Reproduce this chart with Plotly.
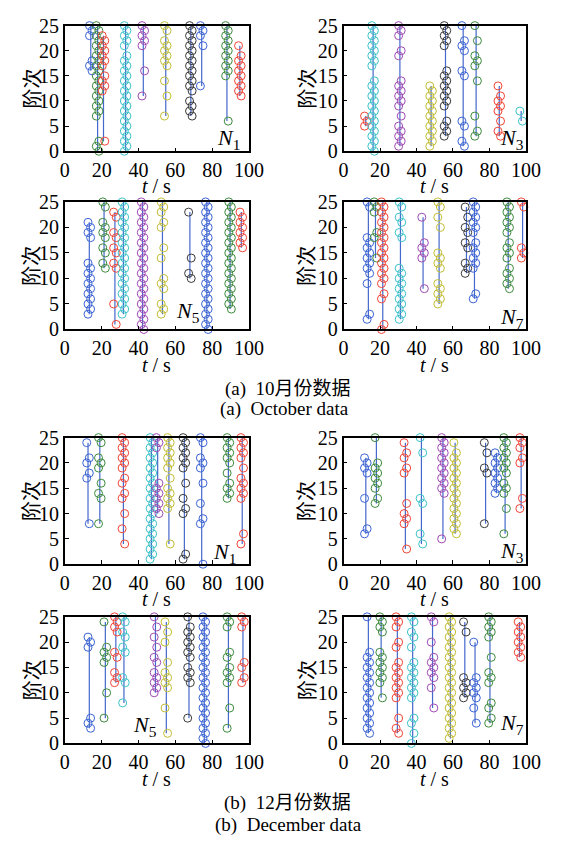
import plotly.graph_objects as go

# ---------------- data ----------------
X_TICKS = [0, 20, 40, 60, 80, 100]
Y_TICKS = [0, 5, 10, 15, 20, 25]

# October, N1
oct_n1_t = [14.1, 17.8, 21.0, 33.0, 42.6, 54.8, 68.4, 74.3, 88.0, 95.0]
oct_n1_c = ["b", "g", "r", "c", "m", "y", "k", "b", "g", "r"]
oct_n1_orders = [
    [25, 24, 23, 18, 17, 16],
    [25, 24, 23, 22, 21, 20, 19, 18, 17, 16, 15, 14, 13, 12, 11, 10, 9, 8, 7, 2, 1, 0],
    [23, 22, 21, 20, 19, 18, 17, 15, 14, 13, 12, 2],
    [25, 24, 23, 22, 21, 19, 18, 17, 16, 15, 14, 13, 12, 11, 10, 9, 8, 7, 6, 5, 4, 3, 2, 1, 0],
    [25, 24, 23, 22, 21, 16, 11],
    [25, 24, 22, 21, 20, 19, 18, 17, 14, 11, 7],
    [25, 24, 23, 22, 21, 20, 19, 18, 17, 16, 15, 14, 13, 12, 10, 9, 8, 7],
    [25, 24, 23, 21, 13],
    [25, 24, 23, 22, 21, 20, 19, 18, 17, 16, 15, 6],
    [21, 19, 18, 17, 16, 15, 14, 13, 12, 11],
]

# October, N3
oct_n3_t = [12.2, 16.2, 30.9, 48.0, 55.9, 65.6, 72.7, 85.4, 97.4]
oct_n3_c = ["r", "c", "m", "y", "k", "b", "g", "r", "c"]
oct_n3_orders = [
    [7, 6, 5],
    [25, 24, 23, 22, 21, 20, 19, 18, 17, 14, 13, 12, 11, 10, 9, 8, 7, 6, 5, 4, 3, 2, 1, 0],
    [25, 24, 23, 20, 19, 14, 13, 12, 11, 10, 9, 7, 5, 4, 3, 2, 1],
    [13, 12, 11, 10, 9, 8, 7, 6, 5, 4, 3, 2, 1],
    [25, 24, 23, 22, 21, 16, 15, 14, 13, 12, 11, 10, 9, 6, 5, 4, 3],
    [25, 22, 21, 20, 16, 15, 6, 5, 2, 1],
    [25, 22, 19, 18, 17, 14, 7, 4, 3],
    [13, 11, 10, 9, 8, 6, 4, 3],
    [8, 6],
]

# October, N5
oct_n5_t = [13.3, 21.3, 27.2, 31.8, 42.2, 53.0, 67.9, 77.1, 89.7, 95.8]
oct_n5_c = ["b", "g", "r", "c", "m", "y", "k", "b", "g", "r"]
oct_n5_orders = [
    [21, 20, 19, 18, 13, 12, 11, 10, 9, 8, 7, 6, 5, 4, 3],
    [25, 24, 21, 20, 19, 18, 16, 15, 13, 12],
    [23, 22, 19, 18, 16, 15, 13, 12, 5, 1],
    [25, 24, 23, 22, 21, 20, 19, 18, 17, 16, 15, 14, 13, 12, 11, 10, 9, 8, 7, 6, 5, 4, 3],
    [25, 24, 23, 22, 21, 20, 19, 18, 17, 16, 15, 14, 13, 12, 11, 10, 9, 8, 7, 6, 5, 4, 3, 2, 1, 0],
    [25, 24, 23, 21, 20, 16, 14, 10, 9, 8, 5, 4, 3],
    [23, 14, 11, 10],
    [25, 24, 23, 22, 21, 20, 19, 18, 17, 16, 15, 14, 13, 12, 11, 10, 9, 8, 7, 6, 5, 4, 3, 2, 1, 0],
    [25, 24, 23, 22, 21, 20, 19, 18, 17, 16, 15, 14, 13, 12, 11, 10, 9, 8, 7, 6, 5, 4],
    [23, 22, 21, 20, 19, 18, 17, 16],
]

# October, N7
oct_n7_t = [13.6, 17.5, 21.5, 31.2, 43.6, 52.4, 67.4, 71.8, 90.3, 98.2]
oct_n7_c = ["b", "g", "r", "c", "m", "y", "k", "b", "g", "r"]
oct_n7_orders = [
    [25, 24, 18, 17, 16, 15, 14, 13, 12, 11, 9, 3, 2],
    [25, 24, 23, 19, 18, 14],
    [25, 24, 23, 22, 21, 20, 19, 18, 17, 16, 15, 14, 13, 12, 11, 10, 9, 7, 6, 1, 0],
    [25, 24, 22, 21, 19, 18, 12, 11, 10, 9, 8, 7, 6, 5, 4, 3, 2],
    [22, 17, 16, 15, 14, 8],
    [25, 24, 22, 20, 15, 14, 13, 12, 9, 8, 7, 6, 5],
    [24, 22, 20, 19, 17, 16, 13, 12, 11],
    [25, 24, 23, 22, 21, 20, 19, 17, 16, 15, 14, 13, 12, 7, 6],
    [25, 24, 23, 22, 21, 20, 19, 17, 16, 15, 14, 12, 11, 10, 9, 8],
    [25, 24, 16, 15, 14],
]

# December, N1
dec_n1_t = [12.6, 19.0, 31.8, 47.0, 50.4, 56.5, 64.9, 74.3, 88.8, 96.3]
dec_n1_c = ["b", "g", "r", "c", "m", "y", "k", "b", "g", "r"]
dec_n1_orders = [
    [24, 21, 20, 18, 17, 8],
    [25, 24, 21, 20, 19, 16, 14, 13, 8],
    [25, 24, 23, 22, 21, 20, 19, 17, 16, 14, 13, 10, 7, 4],
    [25, 24, 23, 22, 21, 20, 19, 18, 17, 16, 15, 14, 13, 12, 11, 10, 9, 8, 7, 6, 5, 4, 3, 2, 1],
    [25, 24, 23, 16, 15, 14, 13, 12, 11, 10],
    [25, 24, 23, 22, 21, 20, 19, 17, 15, 14, 13, 12, 11, 4],
    [25, 24, 23, 22, 21, 20, 19, 16, 13, 11, 10, 2, 1],
    [25, 24, 21, 20, 19, 16, 12, 9, 8, 0],
    [25, 24, 23, 22, 21, 20, 18, 16, 15, 14, 13],
    [25, 24, 23, 22, 21, 19, 17, 16, 15, 14, 13, 6, 4],
]

# December, N3
dec_n3_t = [12.2, 18.0, 33.9, 42.7, 54.5, 61.2, 77.9, 83.8, 88.6, 97.4]
dec_n3_c = ["b", "g", "r", "c", "m", "y", "k", "b", "g", "r"]
dec_n3_orders = [
    [21, 20, 19, 18, 13, 7, 6],
    [25, 20, 19, 18, 17, 16, 15, 13, 12],
    [24, 22, 21, 19, 18, 12, 10, 9, 8, 3],
    [25, 22, 13, 12, 6, 4],
    [25, 24, 23, 22, 21, 20, 19, 18, 17, 16, 15, 14, 5],
    [24, 22, 21, 20, 19, 18, 17, 16, 15, 14, 13, 12, 11, 10, 9, 8, 7, 6],
    [24, 22, 19, 18, 8],
    [22, 21, 20, 19, 18, 17, 16, 15, 14],
    [25, 24, 23, 22, 21, 20, 19, 18, 16, 15, 14, 11, 6],
    [25, 24, 23, 21, 20, 13, 11],
]

# December, N5
dec_n5_t = [13.3, 22.0, 27.7, 32.1, 49.2, 55.1, 67.4, 75.7, 88.8, 96.7]
dec_n5_c = ["b", "g", "r", "c", "m", "y", "k", "b", "g", "r"]
dec_n5_orders = [
    [21, 20, 19, 5, 4, 3],
    [24, 19, 18, 17, 16, 10, 5],
    [25, 24, 23, 22, 18, 17, 14, 13, 12],
    [25, 24, 22, 21, 19, 18, 13, 12, 8],
    [25, 23, 21, 19, 17, 16, 14, 13, 12, 11, 10],
    [24, 22, 20, 16, 14, 13, 12, 11, 7, 2],
    [25, 23, 22, 21, 20, 19, 18, 17, 15, 14, 13, 12, 5],
    [25, 24, 23, 22, 21, 20, 19, 18, 17, 16, 15, 14, 13, 12, 11, 10, 9, 8, 7, 6, 5, 4, 3, 2, 1, 0],
    [25, 24, 23, 18, 17, 15, 14, 13, 12, 7, 3],
    [25, 24, 23, 16, 15, 13, 12],
]

# December, N7
dec_n7_t = [13.6, 20.6, 29.5, 37.9, 48.8, 58.6, 66.5, 72.1, 80.3, 96.5]
dec_n7_c = ["b", "g", "r", "c", "m", "y", "k", "b", "g", "r"]
dec_n7_orders = [
    [25, 18, 17, 16, 15, 14, 13, 12, 11, 10, 9, 8, 7, 6, 5, 4, 3, 2],
    [25, 24, 23, 22, 18, 17, 16, 15, 14, 13, 12, 9],
    [25, 24, 23, 20, 19, 16, 15, 14, 13, 12, 11, 10, 9, 5, 3, 2],
    [25, 24, 22, 21, 19, 16, 15, 14, 13, 12, 11, 10, 9, 5, 4, 2, 0],
    [25, 24, 20, 17, 16, 15, 14, 13, 11, 7],
    [25, 24, 23, 22, 21, 20, 19, 18, 17, 16, 15, 14, 13, 12, 11, 10, 9, 8, 7, 6, 5, 4, 3, 2, 1],
    [24, 22, 13, 12, 11, 10, 9],
    [20, 13, 12, 11, 10, 9, 7, 4],
    [25, 24, 23, 22, 21, 17, 14, 13, 12, 8, 7, 5, 4],
    [24, 23, 22, 21, 20, 19, 18, 17],
]

panel_labels = ["N1", "N3", "N5", "N7", "N1", "N3", "N5", "N7"]
captions = ["(a)  10月份数据", "(a)  October data", "(b)  12月份数据", "(b)  December data"]

# ---------------- style ----------------
W, H = 565, 846
COL = {"b": "#3b63d3", "g": "#3d8a3d", "r": "#ef4436", "c": "#3cc2c8",
       "m": "#9f4ab3", "y": "#c2bd35", "k": "#3a3a3a"}
LINE_COL = "#4468cc"
SERIF = "Liberation Serif, Times New Roman, serif"
CJK = "Noto Sans CJK SC"

# pixel boxes (left, right, top, bottom)
boxes = [
    (62, 253, 15, 144), (351, 540, 15, 144),
    (62, 253, 196, 327), (351, 540, 196, 327),
    (62, 253, 438, 568), (351, 540, 438, 568),
    (62, 253, 622, 752), (351, 540, 622, 752),
]
# N label pixel positions (center)
nlab_pos = [(232, 131), (526, 131), (190, 309), (526, 315),
            (228, 556), (526, 555), (145, 734), (526, 732)]

panels = [
    (oct_n1_t, oct_n1_c, oct_n1_orders), (oct_n3_t, oct_n3_c, oct_n3_orders),
    (oct_n5_t, oct_n5_c, oct_n5_orders), (oct_n7_t, oct_n7_c, oct_n7_orders),
    (dec_n1_t, dec_n1_c, dec_n1_orders), (dec_n3_t, dec_n3_c, dec_n3_orders),
    (dec_n5_t, dec_n5_c, dec_n5_orders), (dec_n7_t, dec_n7_c, dec_n7_orders),
]

fig = go.Figure()
layout = dict(width=W, height=H, margin=dict(l=0, r=0, t=0, b=0),
              paper_bgcolor="white", plot_bgcolor="white", showlegend=False)
annotations = []


def ann(px, py, text, font, **kw):
    d = dict(x=px / W, y=1 - py / H, xref="paper", yref="paper", text=text,
             showarrow=False, xanchor="center", yanchor="middle", font=font)
    d.update(kw)
    return d


for i, ((ts, cs, orders), box) in enumerate(zip(panels, boxes)):
    k = "" if i == 0 else str(i + 1)
    xa, ya = "x" + k, "y" + k
    l, r, t, b = box
    axis_common = dict(showline=True, linecolor="black", linewidth=1.5, mirror=True,
                       ticks="inside", ticklen=4, tickwidth=1, tickcolor="black",
                       showgrid=False, zeroline=False,
                       tickfont=dict(family=SERIF, size=20, color="black"))
    layout["xaxis" + k] = dict(domain=[l / W, r / W], range=[0, 100], tickvals=X_TICKS,
                               anchor=ya, **axis_common)
    layout["yaxis" + k] = dict(domain=[1 - b / H, 1 - t / H], range=[0, 25], tickvals=Y_TICKS,
                               anchor=xa, **axis_common)
    # vertical connecting lines
    lx, ly = [], []
    for tt, ys in zip(ts, orders):
        lx += [tt, tt, None]
        ly += [min(ys), max(ys), None]
    fig.add_trace(go.Scatter(x=lx, y=ly, mode="lines", xaxis=xa, yaxis=ya,
                             line=dict(color=LINE_COL, width=1.2), hoverinfo="skip",
                             cliponaxis=False))
    # circles
    for tt, c, ys in zip(ts, cs, orders):
        xs = [tt + (0.7 if j % 2 else -0.7) for j in range(len(ys))]
        fig.add_trace(go.Scatter(x=xs, y=ys, mode="markers", xaxis=xa, yaxis=ya,
                                 marker=dict(symbol="circle-open", size=8, color=COL[c],
                                             line=dict(width=1, color=COL[c])),
                                 cliponaxis=False))
    # axis titles
    cx = (l + r) / 2
    annotations.append(ann(cx, b + 36, "<i>t</i> / s",
                           dict(family=SERIF, size=20, color="black")))
    ytx = 27 if l < 100 else 312
    annotations.append(ann(ytx, (t + b) / 2, "阶次",
                           dict(family=CJK, size=20, color="black"), textangle=-90))
    nx, ny = nlab_pos[i]
    lab = panel_labels[i]
    annotations.append(ann(nx, ny, "<i>N</i><sub>" + lab[1:] + "</sub>",
                           dict(family=SERIF, size=22, color="black")))

cap_pos = [(293, 388), (290, 409), (293, 813), (294, 836)]
for txt, (cx, cy) in zip(captions, cap_pos):
    annotations.append(ann(cx, cy, txt, dict(family=SERIF + ", " + CJK, size=19, color="black")))

layout["annotations"] = annotations
fig.update_layout(**layout)
fig.write_html("out.html")
